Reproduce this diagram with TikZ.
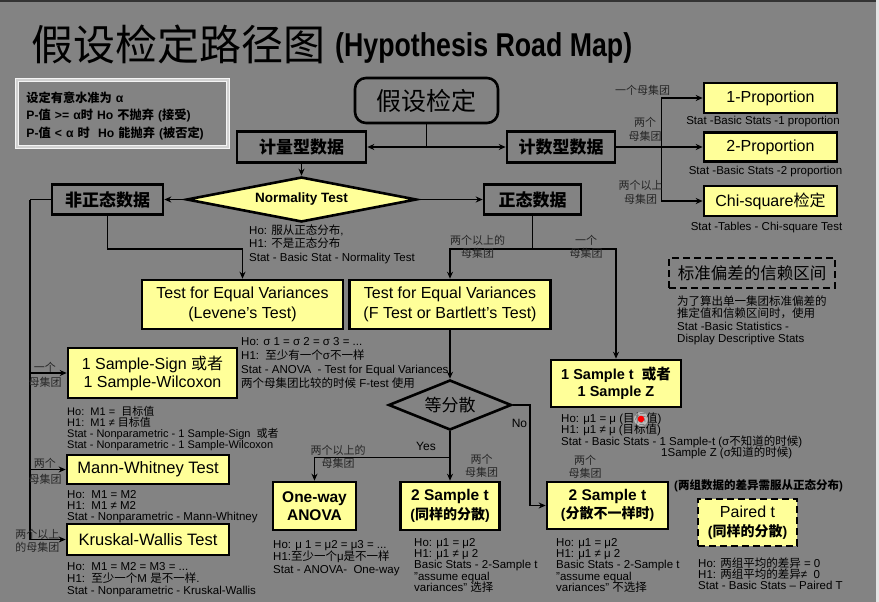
\documentclass[tikz,border=0pt]{standalone}
\usepackage{fontspec}
\usepackage{graphicx}
\setmainfont{Liberation Sans}
\newfontfamily\cjkfont{Noto Sans CJK SC}
\usetikzlibrary{shapes.geometric,arrows.meta}
% automatic switch to the CJK font for CJK characters
\chardef\cjkcls=37
\newcount\cjkc
\def\cjkrange#1#2{\cjkc=#1\relax\loop\XeTeXcharclass\cjkc=\cjkcls\relax\ifnum\cjkc<#2\relax\advance\cjkc by 1\relax\repeat}
\cjkrange{"4E00}{"9FFF}
\cjkrange{"3000}{"303F}
\cjkrange{"FF00}{"FFEF}
\XeTeXinterchartoks 0 \cjkcls = {\begingroup\cjkfont}
\XeTeXinterchartoks 1 \cjkcls = {\begingroup\cjkfont}
\XeTeXinterchartoks 2 \cjkcls = {\begingroup\cjkfont}
\XeTeXinterchartoks 3 \cjkcls = {\begingroup\cjkfont}
\XeTeXinterchartoks 4095 \cjkcls = {\begingroup\cjkfont}
\XeTeXinterchartoks \cjkcls 0 = {\endgroup}
\XeTeXinterchartoks \cjkcls 1 = {\endgroup}
\XeTeXinterchartoks \cjkcls 2 = {\endgroup}
\XeTeXinterchartoks \cjkcls 3 = {\endgroup}
\XeTeXinterchartoks \cjkcls 4095 = {\endgroup}
\XeTeXinterchartokenstate=1
\setlength{\lineskiplimit}{-20pt}
\newcommand\tstrut{\rule{0pt}{10.5pt}}
\definecolor{bg}{RGB}{131,131,131}
\definecolor{boxyellow}{RGB}{255,255,153}
\tikzset{
  bx/.style={draw=black, line width=2.6pt, inner sep=0pt, align=center},
  ybx/.style={bx, fill=boxyellow},
  arr/.style={line width=1.6pt, -{Stealth[length=7pt,width=6pt]}},
  ln/.style={line width=1.6pt},
  sm/.style={inner sep=0pt, align=left, anchor=north west},
  lbl/.style={inner sep=0pt, align=center, text=black!85},
  f17b/.style={font=\fontsize{17}{17}\selectfont\bfseries},
  fbox16/.style={font=\fontsize{16}{20}\selectfont},
  fbt/.style={font=\fontsize{15.5}{18.5}\selectfont\bfseries},
}
\begin{document}
\begin{tikzpicture}[x=1pt,y=-1pt]
\useasboundingbox (0,0) rectangle (879,602);
\fill[bg] (0,0) rectangle (879,602);
\fill[black!80] (0,0) rectangle (879,2);
\fill[white!80!gray] (876,0) rectangle (879,602);

% title
\node[anchor=base west, inner sep=0pt, font=\fontsize{42}{42}\selectfont] (title) at (31,61) {假设检定路径图};
\node[anchor=base west, inner sep=0pt, font=\fontsize{33}{33}\selectfont\bfseries] (titleen) at (335,57) {\scalebox{0.81}[1]{(Hypothesis Road Map)}};

% legend
\node[draw=white!92!gray, double=white!65!gray, double distance=2.4pt, line width=1.1pt,
      minimum width=211pt, minimum height=67pt, text width=192pt, align=left, inner sep=0pt,
      font=\fontsize{12.2}{17.5}\selectfont\bfseries] (legend) at (122.5,113.5)
  {\rule{0pt}{15pt}设定有意水准为 α\\P-值 >= α时 Ho 不抛弃 (接受)\\P-值 < α 时~~Ho 能抛弃 (被否定)};

% main nodes
\node[bx, rounded corners=11pt, minimum width=143pt, minimum height=45pt, font=\fontsize{25}{25}\selectfont] (hyp) at (426.5,100.5) {假设检定};
\node[bx, f17b, minimum width=129pt, minimum height=31pt] (jl) at (301.5,147) {计量型数据};
\node[bx, f17b, minimum width=108pt, minimum height=31pt] (js) at (561,147) {计数型数据};
\node[ybx, diamond, aspect=5.1, minimum width=230pt, minimum height=45pt, font=\fontsize{13.5}{14}\selectfont\bfseries] (norm) at (301.5,199.5) {Normality Test};
\node[bx, f17b, minimum width=111pt, minimum height=30pt] (fz) at (107.5,199.5) {非正态数据};
\node[bx, f17b, minimum width=97pt, minimum height=30pt] (zt) at (532.5,199.5) {正态数据};
\node[ybx, fbox16, minimum width=201pt, minimum height=49pt] (lev) at (242.5,304.5) {Test for Equal Variances\\(Levene’s Test)};
\node[ybx, fbox16, minimum width=201pt, minimum height=49pt] (ft) at (450,304.5) {Test for Equal Variances\\(F Test or Bartlett’s Test)};
\node[bx, diamond, aspect=2.46, minimum width=123pt, minimum height=50pt, font=\fontsize{17}{17}\selectfont] (dfs) at (450,405) {等分散};
\node[ybx, minimum width=130pt, minimum height=47pt, font=\fontsize{14.5}{17}\selectfont\bfseries] (one1) at (616,383.5) {1 Sample t~~或者\\1 Sample Z};
\node[ybx, minimum width=169pt, minimum height=50pt, font=\fontsize{16}{18}\selectfont] (sgn) at (152.5,373) {1 Sample-Sign 或者\\1 Sample-Wilcoxon};
\node[ybx, minimum width=162pt, minimum height=29pt, font=\fontsize{16.5}{18}\selectfont] (mw) at (148,469.5) {Mann-Whitney Test};
\node[ybx, minimum width=162pt, minimum height=31pt, font=\fontsize{16.5}{18}\selectfont] (kw) at (148,539.5) {Kruskal-Wallis Test};
\node[ybx, fbt, minimum width=83pt, minimum height=48pt] (anova) at (314.5,506) {One-way\\ANOVA};
\node[ybx, fbt, minimum width=99pt, minimum height=48pt] (t2eq) at (450,506) {2 Sample t\\{\fontsize{14}{18}\selectfont (同样的分散)}};
\node[ybx, fbt, minimum width=121pt, minimum height=47pt] (t2ne) at (607.5,505.5) {2 Sample t\\{\fontsize{14}{18}\selectfont (分散不一样时)}};
\node[ybx, dash pattern=on 7pt off 4pt, minimum width=99pt, minimum height=47pt, font=\fontsize{16}{18.5}\selectfont] (paired) at (747.5,522.5) {Paired t\\{\fontsize{14}{18}\selectfont\bfseries (同样的分散)}};
\node[ybx, fbox16, minimum width=133pt, minimum height=30pt] (p1) at (770.5,98) {1-Proportion};
\node[ybx, fbox16, minimum width=133pt, minimum height=29pt] (p2) at (770.5,147) {2-Proportion};
\node[ybx, fbox16, minimum width=133pt, minimum height=30pt] (chi) at (770.5,201) {Chi-square检定};
\node[bx, dash pattern=on 7pt off 4pt, minimum width=166pt, minimum height=30pt, font=\fontsize{16.5}{18}\selectfont] (sd) at (752,273) {标准偏差的信赖区间};

% connectors
\draw[arr] (hyp.south) |- (jl.east);
\draw[arr] (hyp.south) |- (js.west);
\draw[arr] (jl.south) -- (norm.north);
\draw[arr] (norm.west) -- (fz.east);
\draw[arr] (norm.east) -- (zt.west);
\draw[arr] (fz.south) -- ++(0,33) -| (lev.north);
\draw[ln] (fz.west) -- ++(-21,0) coordinate (lv);
\draw[arr] (lv) |- (sgn.west);
\draw[arr] (lv) |- (mw.west);
\draw[arr] (lv) |- (kw.west);
\draw[arr] (zt.south) -- ++(0,33) -| (ft.north);
\draw[arr] (zt.south) -- ++(0,33) -| (one1.north);
\draw[arr] (ft.south) -- (dfs.north);
\draw[arr] (dfs.south) -- ++(0,26) -| (anova.north);
\draw[arr] (dfs.south) -- (t2eq.north);
\draw[arr] (dfs.east) -- ++(17,0) |- (t2ne.west);
\draw[ln] (js.east) -- ++(45,0) coordinate (rv);
\draw[arr] (rv) |- (p1.west);
\draw[arr] (rv) -- (p2.west);
\draw[arr] (rv) |- (chi.west);

% branch labels
\begin{scope}[font=\fontsize{11}{13.5}\selectfont]
\node[lbl] (l1) at (642.5,90) {一个母集团};
\node[lbl] (l2) at (645,129.5) {两个\\母集团};
\node[lbl] (l3) at (640.5,192.5) {两个以上\\母集团};
\node[lbl] (l4) at (477.5,247) {两个以上的\\母集团};
\node[lbl] (l5) at (586,247) {一个\\母集团};
\node[lbl] (l9) at (338,457) {两个以上的\\母集团};
\node[lbl] (l10) at (481.5,466) {两个\\母集团};
\node[lbl] (l11) at (585,467) {两个\\母集团};
\end{scope}
\begin{scope}[font=\fontsize{11}{15.5}\selectfont]
\node[lbl] (l6) at (45,375) {一个\\母集团};
\node[lbl] (l7) at (45,471.5) {两个\\母集团};
\end{scope}
\node[lbl, font=\fontsize{11}{12.5}\selectfont] (l8) at (37.5,541) {两个以上\\的母集团};
\node[inner sep=0pt, font=\fontsize{12}{12}\selectfont] (yes) at (426,446) {Yes};
\node[inner sep=0pt, font=\fontsize{12}{12}\selectfont] (no) at (519.5,423) {No};

% descriptive texts
\node[sm, font=\fontsize{11.5}{13.5}\selectfont] (tnorm) at (249,223.7) {\tstrut Ho: 服从正态分布,\\H1: 不是正态分布\\Stat - Basic Stat - Normality Test};
\node[sm, font=\fontsize{11.5}{14}\selectfont] (tsig) at (241,334.7) {\tstrut Ho: σ 1 = σ 2 = σ 3 = ...\\H1:~~至少有一个σ不一样\\Stat - ANOVA~~- Test for Equal Variances\\两个母集团比较的时候 F-test 使用};
\node[sm, font=\fontsize{11}{10.9}\selectfont] (tsgn) at (67,405) {\tstrut Ho:~~M1 =~~目标值\\H1:~~M1 ≠ 目标值\\Stat - Nonparametric - 1 Sample-Sign~~或者\\Stat - Nonparametric - 1 Sample-Wilcoxon};
\node[sm, font=\fontsize{11.5}{11}\selectfont] (tmw) at (67,487.7) {\tstrut Ho:~~M1 = M2\\H1:~~M1 ≠ M2\\Stat - Nonparametric - Mann-Whitney};
\node[sm, font=\fontsize{11.5}{12}\selectfont] (tkw) at (67,559.7) {\tstrut Ho:~~M1 = M2 = M3 = ...\\H1:~~至少一个M 是不一样.\\Stat - Nonparametric - Kruskal-Wallis};
\node[sm, font=\fontsize{11.5}{12.5}\selectfont] (tanova) at (273,537.7) {\tstrut Ho: μ 1 = μ2 = μ3 = ...\\H1:至少一个μ是不一样\\Stat - ANOVA-~~One-way};
\node[sm, font=\fontsize{11.5}{11.25}\selectfont] (tt2eq) at (414,535.7) {\tstrut Ho: μ1 = μ2\\H1: μ1 ≠ μ 2\\Basic Stats - 2-Sample t\\"assume equal\\variances" 选择};
\node[sm, font=\fontsize{11.5}{11.25}\selectfont] (tt2ne) at (556,535.7) {\tstrut Ho: μ1 = μ2\\H1: μ1 ≠ μ 2\\Basic Stats - 2-Sample t\\"assume equal\\variances" 不选择};
\node[sm, font=\fontsize{11.5}{11}\selectfont] (tpaired) at (698,556.7) {\tstrut Ho: 两组平均的差异 = 0\\H1: 两组平均的差异≠~~0\\Stat - Basic Stats – Paired T};
\node[sm, font=\fontsize{11.5}{11.5}\selectfont] (tone1) at (561,411.7) {\tstrut Ho: μ1 = μ (目标值)\\H1: μ1 ≠ μ (目标值)\\Stat - Basic Stats - 1 Sample-t (σ不知道的时候)};
\node[sm, font=\fontsize{11.5}{11.5}\selectfont] (tone1b) at (661,445.7) {\tstrut 1Sample Z (σ知道的时候)};
\node[sm, font=\fontsize{11.5}{12.3}\selectfont] (tsd) at (677,294.7) {\tstrut 为了算出单一集团标准偏差的\\推定值和信赖区间时，使用\\Stat -Basic Statistics -\\Display Descriptive Stats};
\node[inner sep=0pt, font=\fontsize{11.5}{12}\selectfont] (tp1) at (763,122) {Stat -Basic Stats -1 proportion};
\node[inner sep=0pt, font=\fontsize{11.5}{12}\selectfont] (tp2) at (765.5,172) {Stat -Basic Stats -2 proportion};
\node[inner sep=0pt, font=\fontsize{11.5}{12}\selectfont] (tchi) at (766.5,228) {Stat -Tables - Chi-square Test};
\node[inner sep=0pt, font=\fontsize{11.5}{12}\selectfont\bfseries] (tdiff) at (758.5,486) {(两组数据的差异需服从正态分布)};

% pointer mark
\fill[white, opacity=0.45] (641,419) circle (7pt);
\fill[red] (641,419) circle (3.3pt);
\end{tikzpicture}
\end{document}
